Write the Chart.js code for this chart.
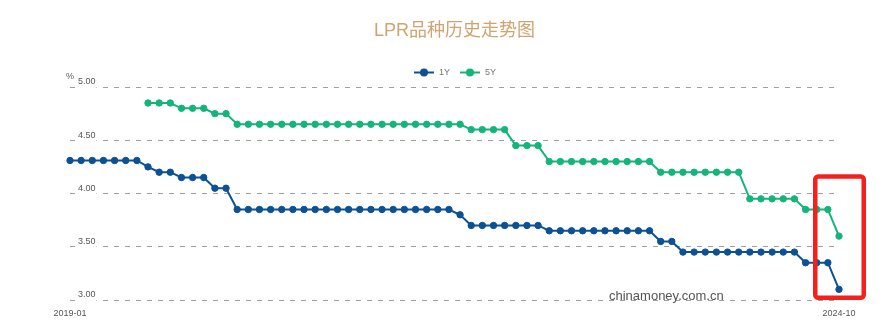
<!DOCTYPE html>
<html>
<head>
<meta charset="utf-8">
<script src="https://cdn.jsdelivr.net/npm/chart.js@4"></script>
<style>
html,body{margin:0;padding:0;background:#fff;}
#wrap{width:888px;height:322px;position:relative;}
</style>
</head>
<body>
<div id="wrap"><canvas id="c" width="888" height="322"></canvas></div>
<script>
const titleText = 'LPR品种历史走势图';
const unitLabel = '%';
const watermark = 'chinamoney.com.cn';

const months = [
  '2019-01','2019-02','2019-03','2019-04','2019-05','2019-06','2019-07','2019-08','2019-09','2019-10','2019-11','2019-12',
  '2020-01','2020-02','2020-03','2020-04','2020-05','2020-06','2020-07','2020-08','2020-09','2020-10','2020-11','2020-12',
  '2021-01','2021-02','2021-03','2021-04','2021-05','2021-06','2021-07','2021-08','2021-09','2021-10','2021-11','2021-12',
  '2022-01','2022-02','2022-03','2022-04','2022-05','2022-06','2022-07','2022-08','2022-09','2022-10','2022-11','2022-12',
  '2023-01','2023-02','2023-03','2023-04','2023-05','2023-06','2023-07','2023-08','2023-09','2023-10','2023-11','2023-12',
  '2024-01','2024-02','2024-03','2024-04','2024-05','2024-06','2024-07','2024-08','2024-09','2024-10'
];

const lpr1Y = [
  4.31,4.31,4.31,4.31,4.31,4.31,4.31,4.25,4.20,4.20,4.15,4.15,
  4.15,4.05,4.05,3.85,3.85,3.85,3.85,3.85,3.85,3.85,3.85,3.85,
  3.85,3.85,3.85,3.85,3.85,3.85,3.85,3.85,3.85,3.85,3.85,3.80,
  3.70,3.70,3.70,3.70,3.70,3.70,3.70,3.65,3.65,3.65,3.65,3.65,
  3.65,3.65,3.65,3.65,3.65,3.55,3.55,3.45,3.45,3.45,3.45,3.45,
  3.45,3.45,3.45,3.45,3.45,3.45,3.35,3.35,3.35,3.10
];

const lpr5Y = [
  null,null,null,null,null,null,null,4.85,4.85,4.85,4.80,4.80,
  4.80,4.75,4.75,4.65,4.65,4.65,4.65,4.65,4.65,4.65,4.65,4.65,
  4.65,4.65,4.65,4.65,4.65,4.65,4.65,4.65,4.65,4.65,4.65,4.65,
  4.60,4.60,4.60,4.60,4.45,4.45,4.45,4.30,4.30,4.30,4.30,4.30,
  4.30,4.30,4.30,4.30,4.30,4.20,4.20,4.20,4.20,4.20,4.20,4.20,
  4.20,3.95,3.95,3.95,3.95,3.95,3.85,3.85,3.85,3.60
];

const yTicks = [3.00, 3.50, 4.00, 4.50, 5.00];
const seriesNames = ['1Y', '5Y'];
const seriesColors = ['#0b5194', '#14b47a'];

const FONT = '"Liberation Sans","Noto Sans CJK SC",Arial,sans-serif';

const overlay = {
  id: 'overlay',
  afterDraw(chart) {
    const {ctx, scales} = chart;
    const xs = scales.x, ys = scales.y;
    ctx.save();
    // title
    ctx.font = '18px ' + FONT;
    ctx.fillStyle = '#d0a470';
    ctx.textAlign = 'center';
    ctx.textBaseline = 'middle';
    ctx.fillText(titleText, 454.5, 31);

    // legend
    ctx.font = '9px ' + FONT;
    const items = chart.data.datasets.map(d => ({label: d.label, color: d.borderColor, w: ctx.measureText(d.label).width}));
    let total = 0;
    items.forEach((it, i) => { total += 25 + it.w + (i < items.length - 1 ? 10 : 0); });
    let lx = 455 - total / 2;
    const ly = 72.5;
    items.forEach(it => {
      ctx.strokeStyle = it.color; ctx.lineWidth = 2;
      ctx.beginPath(); ctx.moveTo(lx, ly); ctx.lineTo(lx + 20, ly); ctx.stroke();
      ctx.fillStyle = it.color;
      ctx.beginPath(); ctx.arc(lx + 10, ly, 4, 0, Math.PI * 2); ctx.fill();
      ctx.fillStyle = '#777';
      ctx.textAlign = 'left'; ctx.textBaseline = 'middle';
      ctx.fillText(it.label, lx + 25, ly);
      lx += 25 + it.w + 10;
    });

    // unit label
    ctx.font = '9px ' + FONT;
    ctx.fillStyle = '#555';
    ctx.textAlign = 'left'; ctx.textBaseline = 'middle';
    ctx.fillText(unitLabel, 66, 77);

    // watermark
    ctx.font = '13px ' + FONT;
    ctx.fillStyle = '#555';
    ctx.textAlign = 'left'; ctx.textBaseline = 'middle';
    ctx.fillText(watermark, 609, 296);

    // red highlight box around latest data
    const lastX = xs.getPixelForValue(months.length - 1);
    const bx0 = lastX - 23.75, bx1 = lastX + 24.75;
    const by1 = ys.getPixelForValue(3.0) - 2.25;
    const by0 = ys.getPixelForValue(4.16);
    ctx.strokeStyle = '#f5201c';
    ctx.lineWidth = 4.5;
    ctx.beginPath();
    ctx.roundRect(bx0, by0, bx1 - bx0, by1 - by0, 3);
    ctx.stroke();
    ctx.restore();
  }
};

new Chart(document.getElementById('c'), {
  type: 'line',
  data: {
    labels: months,
    datasets: [
      { label: seriesNames[0], data: lpr1Y, borderColor: seriesColors[0], backgroundColor: seriesColors[0],
        borderWidth: 2, pointRadius: 3.2, pointBorderWidth: 1, pointBackgroundColor: seriesColors[0], tension: 0 },
      { label: seriesNames[1], data: lpr5Y, borderColor: seriesColors[1], backgroundColor: seriesColors[1],
        borderWidth: 2, pointRadius: 3.2, pointBorderWidth: 1, pointBackgroundColor: seriesColors[1], tension: 0 }
    ]
  },
  options: {
    responsive: false,
    devicePixelRatio: 1,
    animation: false,
    layout: { padding: { left: 62, right: 49, top: 87, bottom: 3 } },
    plugins: { legend: { display: false }, title: { display: false }, tooltip: { enabled: false } },
    scales: {
      x: {
        type: 'category',
        offset: false,
        grid: { display: false, drawTicks: false },
        border: { display: false },
        afterFit: (s) => { s.height = 19; },
        ticks: {
          autoSkip: false, maxRotation: 0, padding: 8,
          color: '#555', font: { size: 9, family: FONT },
          callback: function(v, i) { return (i === 0 || i === months.length - 1) ? months[i] : ''; }
        }
      },
      y: {
        min: yTicks[0], max: yTicks[yTicks.length - 1],
        afterBuildTicks: (s) => { s.ticks = yTicks.map(v => ({ value: v })); },
        afterFit: (s) => { s.width = 8; },
        grid: { color: '#a0a0a0', lineWidth: 1, drawTicks: false },
        border: { display: false, dash: [5, 6] },
        ticks: {
          mirror: true, padding: 8, labelOffset: -5,
          showLabelBackdrop: true, backdropColor: '#ffffff', backdropPadding: 1,
          color: '#555', font: { size: 9, family: FONT },
          callback: (v) => Number(v).toFixed(2)
        }
      }
    }
  },
  plugins: [overlay]
});
</script>
</body>
</html>
